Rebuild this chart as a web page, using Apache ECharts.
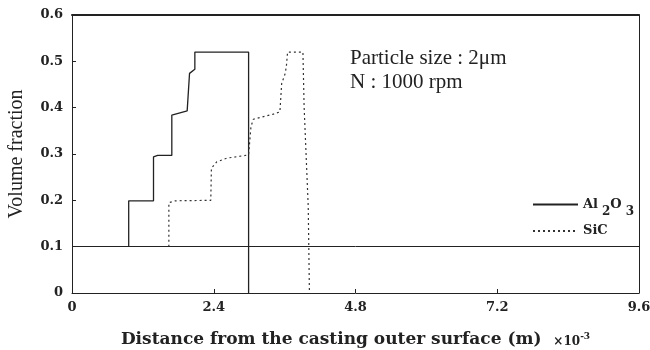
<!DOCTYPE html>
<html>
<head>
<meta charset="utf-8">
<script src="https://cdn.jsdelivr.net/npm/echarts@6/dist/echarts.min.js"></script>
<style>
html, body { margin: 0; padding: 0; background: #fff; }
#chart { width: 650px; height: 350px; }
</style>
</head>
<body>
<div id="chart"></div>
<script>
// distance (x10^-3 m) / volume fraction
var al2o3X = [0.96, 0.96, 1.38, 1.38, 1.45, 1.69, 1.69, 1.95, 1.99, 2.08, 2.08, 2.99, 2.99, 2.99];
var al2o3Y = [0.1, 0.199, 0.199, 0.294, 0.297, 0.297, 0.384, 0.393, 0.474, 0.483, 0.52, 0.52, 0.475, 0];

var sicX = [1.64, 1.64, 1.75, 2.35, 2.36, 2.45, 2.62, 2.99, 3.03, 3.07, 3.41, 3.52, 3.55, 3.61, 3.63, 3.65, 3.91, 3.93, 4.0, 4.02];
var sicY = [0.1, 0.195, 0.199, 0.2, 0.269, 0.283, 0.291, 0.298, 0.359, 0.375, 0.386, 0.391, 0.452, 0.474, 0.49, 0.52, 0.52, 0.402, 0.186, 0];

var baseLevel = 0.1;

function pairs(xs, ys) {
    var d = [];
    for (var i = 0; i < xs.length; i++) {
        d.push([xs[i], ys[i]]);
    }
    return d;
}

var chart = echarts.init(document.getElementById('chart'));

var tickFont = {
    fontFamily: 'DejaVu Serif',
    fontWeight: 'bold',
    fontSize: 13,
    color: '#222'
};

var option = {
    backgroundColor: '#fff',
    animation: false,
    grid: {
        left: 72,
        right: 11,
        top: 15,
        bottom: 57,
        outerBoundsMode: 'none',
        containLabel: false
    },
    graphic: [
        {
            type: 'text',
            left: 350,
            top: 46,
            style: {
                text: 'Particle size : 2\u03bcm\nN : 1000 rpm',
                font: '21px "Liberation Serif"',
                lineHeight: 24,
                fill: '#222'
            }
        }
    ],
    legend: {
        orient: 'vertical',
        left: 527,
        top: 193,
        itemWidth: 45,
        itemHeight: 10,
        itemGap: 7,
        itemStyle: { opacity: 0 },
        data: ['Al2O3', 'SiC'],
        formatter: function (name) {
            if (name === 'Al2O3') {
                return '{a|Al}{s|2}{a|O}{s|3}';
            }
            return '{a|' + name + '}';
        },
        textStyle: {
            rich: {
                a: { fontFamily: 'DejaVu Serif', fontWeight: 'bold', fontSize: 13, color: '#222' },
                s: { fontFamily: 'DejaVu Serif', fontWeight: 'bold', fontSize: 12, color: '#222', padding: [14, 0, 0, 4] }
            }
        }
    },
    xAxis: [
        {
            type: 'value',
            min: 0,
            max: 9.6,
            interval: 2.4,
            name: 'Distance from the casting outer surface (m) {sm|\u00d710}{sup|-3}',
            nameLocation: 'middle',
            nameGap: 38,
            nameTextStyle: {
                fontFamily: 'DejaVu Serif',
                fontWeight: 'bold',
                fontSize: 17,
                color: '#222',
                rich: {
                    sm: { fontFamily: 'DejaVu Serif', fontWeight: 'bold', fontSize: 12, color: '#222', padding: [4, 0, 0, 6] },
                    sup: { fontFamily: 'DejaVu Serif', fontWeight: 'bold', fontSize: 9, color: '#222', padding: [0, 0, 6, 0] }
                }
            },
            axisLine: { lineStyle: { color: '#222', width: 1 } },
            axisTick: { inside: true, length: 4, lineStyle: { color: '#222' } },
            axisLabel: Object.assign({ margin: 8, formatter: function (v) { return String(v); } }, tickFont),
            splitLine: { show: false }
        },
        {
            type: 'value',
            position: 'top',
            min: 0,
            max: 9.6,
            interval: 2.4,
            axisLine: { show: true, onZero: false, lineStyle: { color: '#222', width: 2 } },
            axisTick: { show: false },
            axisLabel: { show: false },
            splitLine: { show: false }
        }
    ],
    yAxis: [
        {
            type: 'value',
            min: 0,
            max: 0.6,
            interval: 0.1,
            name: 'Volume fraction',
            nameLocation: 'middle',
            nameGap: 45,
            nameTextStyle: {
                fontFamily: 'Liberation Serif',
                fontSize: 20,
                color: '#222'
            },
            axisLine: { show: true, lineStyle: { color: '#222', width: 1 } },
            axisTick: { show: true, inside: true, length: 4, lineStyle: { color: '#222' } },
            axisLabel: Object.assign({ margin: 9, formatter: function (v) { return v === 0 ? '0' : v.toFixed(1); } }, tickFont),
            splitLine: { show: false }
        },
        {
            type: 'value',
            position: 'right',
            min: 0,
            max: 0.6,
            interval: 0.1,
            axisLine: { show: true, onZero: false, lineStyle: { color: '#222', width: 1 } },
            axisTick: { show: false },
            axisLabel: { show: false },
            splitLine: { show: false }
        }
    ],
    series: [
        {
            name: 'Al2O3',
            type: 'line',
            showSymbol: false,
            symbol: 'none',
            lineStyle: { color: '#222', width: 1.3, type: 'solid' },
            itemStyle: { color: '#222' },
            data: pairs(al2o3X, al2o3Y),
            markLine: {
                silent: true,
                symbol: 'none',
                label: { show: false },
                lineStyle: { color: '#222', width: 1, type: 'solid' },
                data: [{ yAxis: baseLevel }]
            }
        },
        {
            name: 'SiC',
            type: 'line',
            showSymbol: false,
            symbol: 'none',
            lineStyle: { color: '#333', width: 1.2, type: [2, 3] },
            itemStyle: { color: '#333' },
            data: pairs(sicX, sicY)
        }
    ]
};

chart.setOption(option);
</script>
</body>
</html>
